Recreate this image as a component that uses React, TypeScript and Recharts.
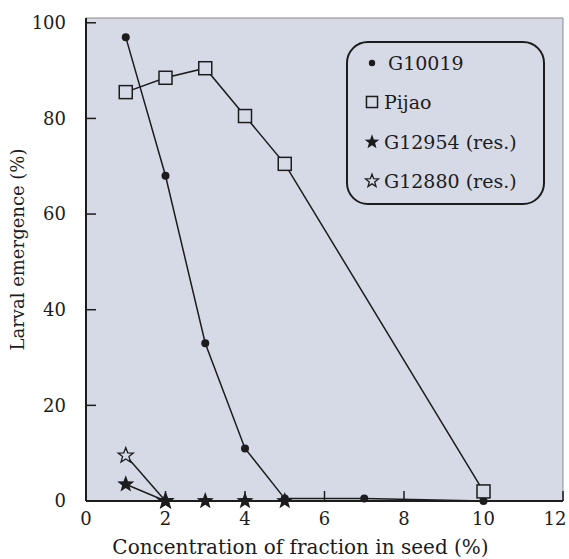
import React from 'react';
import { LineChart, Line, XAxis, YAxis, ReferenceArea, Label } from 'recharts';

// values
const xTicks = [0, 2, 4, 6, 8, 10, 12];
const yTicks = [0, 20, 40, 60, 80, 100];

const g10019X = [1, 2, 3, 4, 5, 7, 10];
const g10019Y = [97, 68, 33, 11, 0.5, 0.5, 0];

const pijaoX = [1, 2, 3, 4, 5, 10];
const pijaoY = [85.5, 88.5, 90.5, 80.5, 70.5, 2];

const g12954X = [1, 2, 3, 4, 5];
const g12954Y = [3.5, 0, 0, 0, 0];

const g12880X = [1, 2];
const g12880Y = [9.5, 0];

const toPoints = (xs: number[], ys: number[]) => xs.map((x, i) => ({ x, y: ys[i] }));

const FONT = "'DejaVu Serif', 'Liberation Serif', serif";
const INK = '#1c1c1c';
const PANEL = '#d6dae7';

type Kind = 'dot' | 'square' | 'star' | 'openStar';

const starPath = (cx: number, cy: number, R: number) => {
  const r = R * 0.42;
  let d = '';
  for (let i = 0; i < 10; i++) {
    const rad = i % 2 === 0 ? R : r;
    const a = -Math.PI / 2 + (i * Math.PI) / 5;
    d += `${i === 0 ? 'M' : 'L'}${cx + rad * Math.cos(a)},${cy + rad * Math.sin(a)}`;
  }
  return d + 'Z';
};

const Marker = ({ kind, cx, cy, size = 1 }: { kind: Kind; cx: number; cy: number; size?: number }) => {
  if (kind === 'dot') return <circle cx={cx} cy={cy} r={4 * size} fill={INK} />;
  if (kind === 'square') {
    const s = 13 * size;
    return <rect x={cx - s / 2} y={cy - s / 2} width={s} height={s} fill={PANEL} stroke={INK} strokeWidth={1.5} />;
  }
  if (kind === 'star') return <path d={starPath(cx, cy, 9 * size)} fill={INK} />;
  return <path d={starPath(cx, cy, 8 * size)} fill={PANEL} stroke={INK} strokeWidth={1.3} />;
};

const series: { name: string; kind: Kind; data: { x: number; y: number }[] }[] = [
  { name: 'G12880 (res.)', kind: 'openStar', data: toPoints(g12880X, g12880Y) },
  { name: 'G10019', kind: 'dot', data: toPoints(g10019X, g10019Y) },
  { name: 'Pijao', kind: 'square', data: toPoints(pijaoX, pijaoY) },
  { name: 'G12954 (res.)', kind: 'star', data: toPoints(g12954X, g12954Y) },
];

const legendOrder: { name: string; kind: Kind }[] = [
  { name: 'G10019', kind: 'dot' },
  { name: 'Pijao', kind: 'square' },
  { name: 'G12954 (res.)', kind: 'star' },
  { name: 'G12880 (res.)', kind: 'openStar' },
];

const LegendBox = () => (
  <div
    style={{
      position: 'absolute',
      left: 346,
      top: 41,
      width: 199,
      height: 164,
      border: `2px solid ${INK}`,
      borderRadius: 22,
      boxSizing: 'border-box',
      padding: '0 0 0 14px',
      fontFamily: FONT,
      fontSize: 19,
      color: INK,
      background: PANEL,
    }}
  >
    {legendOrder.map((it) => (
      <div key={it.name} style={{ display: 'flex', alignItems: 'center', height: 39.5 }}>
        <svg width={22} height={20}>
          <Marker kind={it.kind} cx={10} cy={10} size={it.kind === 'dot' ? 0.8 : 0.85} />
        </svg>
        <span style={{ marginLeft: it.kind === 'dot' ? 4 : 0 }}>{it.name}</span>
      </div>
    ))}
  </div>
);

const XTick = (p: any) => {
  const v = p.payload.value;
  return (
    <text x={p.x + (v === 12 ? -6 : 0)} y={p.y} dy="0.71em" textAnchor="middle" fill={INK} fontSize={18} fontFamily={FONT}>
      {v}
    </text>
  );
};

const tickStyle = { fill: INK, fontSize: 18, fontFamily: FONT };

export default function App() {
  return (
    <div style={{ position: 'absolute', left: 0, top: 0, width: 569, height: 559, background: '#fff' }}>
      <LineChart width={569} height={559} margin={{ top: 18, right: 6, bottom: 0, left: 0 }}>
        <ReferenceArea x1={0} x2={12} y1={0} y2={101} fill={PANEL} fillOpacity={1} stroke="#8a8a8a" strokeWidth={1} />
        <XAxis
          type="number"
          dataKey="x"
          domain={[0, 12]}
          ticks={xTicks}
          height={58}
          tickSize={-10}
          tickMargin={21}
          axisLine={{ stroke: INK, strokeWidth: 2 }}
          tickLine={{ stroke: INK, strokeWidth: 1.5 }}
          tick={<XTick />}
        >
          <Label
            value="Concentration of fraction in seed (%)"
            position="insideBottom"
            offset={5}
            dx={-24}
            style={{ fill: INK, fontSize: 20, fontFamily: FONT }}
          />
        </XAxis>
        <YAxis
          type="number"
          domain={[0, 101]}
          ticks={yTicks}
          width={86}
          tickSize={-10}
          tickMargin={30}
          axisLine={{ stroke: INK, strokeWidth: 2 }}
          tickLine={{ stroke: INK, strokeWidth: 1.5 }}
          tick={tickStyle}
        >
          <Label
            value="Larval emergence (%)"
            angle={-90}
            position="insideLeft"
            offset={18}
            dy={-10}
            style={{ fill: INK, fontSize: 18, fontFamily: FONT, textAnchor: 'middle' }}
          />
        </YAxis>
        {series.map((s) => (
          <Line
            key={s.name}
            name={s.name}
            data={s.data}
            dataKey="y"
            type="linear"
            stroke={INK}
            strokeWidth={1.5}
            isAnimationActive={false}
            dot={(p: any) => <Marker key={`${s.name}-${p.index}`} kind={s.kind} cx={p.cx} cy={p.cy} />}
            activeDot={false}
          />
        ))}
      </LineChart>
      <LegendBox />
    </div>
  );
}
